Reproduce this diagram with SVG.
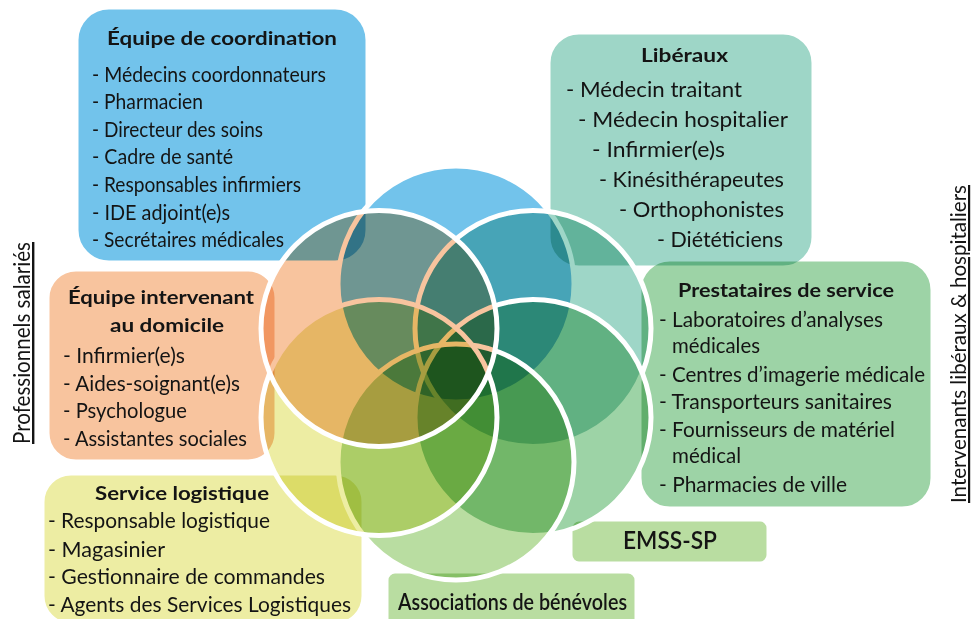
<svg xmlns="http://www.w3.org/2000/svg" width="973" height="619" viewBox="0 0 973 619">
  <style>
    text { font-family: Lato, "Open Sans", "Liberation Sans", sans-serif; fill: #141414; }
    .t { font-size: 19px; font-weight: 700; }
    .i { font-size: 22px; font-weight: 400; }
    .s { font-size: 22px; font-weight: 600; }
    .v { font-size: 22px; font-weight: 400; text-decoration: underline; }
    .box { stroke: #ffffff; stroke-width: 3; mix-blend-mode: multiply; }
    .disc { mix-blend-mode: multiply; }
    .ring { fill: none; stroke: #ffffff; stroke-width: 5; }
  </style>

  <rect x="0" y="0" width="973" height="619" fill="#ffffff"/>

  <!-- boxes -->
  <g id="prestataires-box"><rect class="box" x="640" y="260" width="292" height="248" rx="30" fill="#9DD3A6"/></g>
  <g id="liberaux-box"><rect class="box" x="549" y="33" width="264" height="234" rx="30" fill="#9ED6C7"/></g>
  <g id="coordination-box"><rect class="box" x="77" y="8" width="290" height="254" rx="32" fill="#72C3EB"/></g>
  <g id="domicile-box"><rect class="box" x="48" y="270" width="228" height="191" rx="28" fill="#F8C49E"/></g>
  <g id="logistique-box"><rect class="box" x="43" y="474" width="320" height="150" rx="28" fill="#EDEDA3"/></g>
  <g id="emss-box"><rect class="box" x="571" y="520" width="197" height="43" rx="8" fill="#B9DDA1"/></g>
  <g id="associations-box"><rect class="box" x="387" y="572" width="249" height="55" rx="8" fill="#B9DDA1"/></g>

  <!-- six overlapping circles, multiplied, each with a white ring -->
  <g id="circles">
    <circle class="disc" cx="456" cy="284" r="118" fill="#72C3EB"/>
    <circle class="ring" cx="456" cy="284" r="118"/>
    <circle class="disc" cx="533" cy="328.5" r="118" fill="#9ED6C7"/>
    <circle class="ring" cx="533" cy="328.5" r="118"/>
    <circle class="disc" cx="533" cy="417.5" r="118" fill="#9DD3A6"/>
    <circle class="ring" cx="533" cy="417.5" r="118"/>
    <circle class="disc" cx="456" cy="462" r="118" fill="#B9DDA1"/>
    <circle class="ring" cx="456" cy="462" r="118"/>
    <circle class="disc" cx="379" cy="417.5" r="118" fill="#EDEDA3"/>
    <circle class="ring" cx="379" cy="417.5" r="118"/>
    <circle class="disc" cx="379" cy="328.5" r="118" fill="#F8C49E"/>
    <circle class="ring" cx="379" cy="328.5" r="118"/>
  </g>

  <!-- Équipe de coordination -->
  <g id="coordination">
    <text class="t" x="107" y="45" textLength="230" lengthAdjust="spacingAndGlyphs">Équipe de coordination</text>
    <text class="i" x="92" y="82" textLength="234" lengthAdjust="spacingAndGlyphs">- Médecins coordonnateurs</text>
    <text class="i" x="92" y="109" textLength="111" lengthAdjust="spacingAndGlyphs">- Pharmacien</text>
    <text class="i" x="92" y="137" textLength="171" lengthAdjust="spacingAndGlyphs">- Directeur des soins</text>
    <text class="i" x="92" y="164" textLength="141" lengthAdjust="spacingAndGlyphs">- Cadre de santé</text>
    <text class="i" x="92" y="192" textLength="209" lengthAdjust="spacingAndGlyphs">- Responsables infirmiers</text>
    <text class="i" x="92" y="220" textLength="138" lengthAdjust="spacingAndGlyphs">- IDE adjoint(e)s</text>
    <text class="i" x="92" y="247" textLength="192" lengthAdjust="spacingAndGlyphs">- Secrétaires médicales</text>
  </g>

  <!-- Libéraux -->
  <g id="liberaux">
    <text class="t" x="641" y="62" textLength="87" lengthAdjust="spacingAndGlyphs">Libéraux</text>
    <text class="i" x="566" y="97" textLength="176" lengthAdjust="spacingAndGlyphs">- Médecin traitant</text>
    <text class="i" x="578" y="127" textLength="210" lengthAdjust="spacingAndGlyphs">- Médecin hospitalier</text>
    <text class="i" x="592" y="157" textLength="133" lengthAdjust="spacingAndGlyphs">- Infirmier(e)s</text>
    <text class="i" x="599" y="187" textLength="185" lengthAdjust="spacingAndGlyphs">- Kinésithérapeutes</text>
    <text class="i" x="619" y="217" textLength="165" lengthAdjust="spacingAndGlyphs">- Orthophonistes</text>
    <text class="i" x="657" y="247" textLength="126" lengthAdjust="spacingAndGlyphs">- Diététiciens</text>
  </g>

  <!-- Équipe intervenant au domicile -->
  <g id="domicile">
    <text class="t" x="68" y="304" textLength="186" lengthAdjust="spacingAndGlyphs">Équipe intervenant</text>
    <text class="t" x="110" y="332" textLength="114" lengthAdjust="spacingAndGlyphs">au domicile</text>
    <text class="i" x="63" y="363" textLength="122" lengthAdjust="spacingAndGlyphs">- Infirmier(e)s</text>
    <text class="i" x="63" y="391" textLength="177" lengthAdjust="spacingAndGlyphs">- Aides-soignant(e)s</text>
    <text class="i" x="63" y="418" textLength="124" lengthAdjust="spacingAndGlyphs">- Psychologue</text>
    <text class="i" x="63" y="446" textLength="184" lengthAdjust="spacingAndGlyphs">- Assistantes sociales</text>
  </g>

  <!-- Prestataires de service -->
  <g id="prestataires">
    <text class="t" x="678" y="297" textLength="216" lengthAdjust="spacingAndGlyphs">Prestataires de service</text>
    <text class="i" x="659" y="327" textLength="224" lengthAdjust="spacingAndGlyphs">- Laboratoires d’analyses</text>
    <text class="i" x="672" y="353" textLength="88" lengthAdjust="spacingAndGlyphs">médicales</text>
    <text class="i" x="659" y="382" textLength="266" lengthAdjust="spacingAndGlyphs">- Centres d’imagerie médicale</text>
    <text class="i" x="659" y="409" textLength="233" lengthAdjust="spacingAndGlyphs">- Transporteurs sanitaires</text>
    <text class="i" x="659" y="437" textLength="236" lengthAdjust="spacingAndGlyphs">- Fournisseurs de matériel</text>
    <text class="i" x="672" y="463" textLength="69" lengthAdjust="spacingAndGlyphs">médical</text>
    <text class="i" x="659" y="492" textLength="188" lengthAdjust="spacingAndGlyphs">- Pharmacies de ville</text>
  </g>

  <!-- Service logistique -->
  <g id="logistique">
    <text class="t" x="95" y="500" textLength="174" lengthAdjust="spacingAndGlyphs">Service logistique</text>
    <text class="i" x="48" y="528" textLength="222" lengthAdjust="spacingAndGlyphs">- Responsable logistique</text>
    <text class="i" x="48" y="557" textLength="117" lengthAdjust="spacingAndGlyphs">- Magasinier</text>
    <text class="i" x="48" y="584" textLength="277" lengthAdjust="spacingAndGlyphs">- Gestionnaire de commandes</text>
    <text class="i" x="48" y="612" textLength="303" lengthAdjust="spacingAndGlyphs">- Agents des Services Logistiques</text>
  </g>

  <g id="emss">
    <text class="s" x="623" y="549" style="font-size:24px" textLength="94" lengthAdjust="spacingAndGlyphs">EMSS-SP</text>
  </g>

  <g id="associations">
    <text class="s" x="398" y="610" textLength="229" lengthAdjust="spacingAndGlyphs">Associations de bénévoles</text>
  </g>

  <!-- side captions -->
  <g id="salaries">
    <text class="v" transform="translate(30,444) rotate(-90)" x="0" y="0" style="font-size:24px" textLength="202" lengthAdjust="spacingAndGlyphs">Professionnels salariés</text>
  </g>
  <g id="intervenants">
    <text class="v" transform="translate(966,503) rotate(-90)" x="0" y="0" textLength="318" lengthAdjust="spacingAndGlyphs">Intervenants libéraux &amp; hospitaliers</text>
  </g>
</svg>
